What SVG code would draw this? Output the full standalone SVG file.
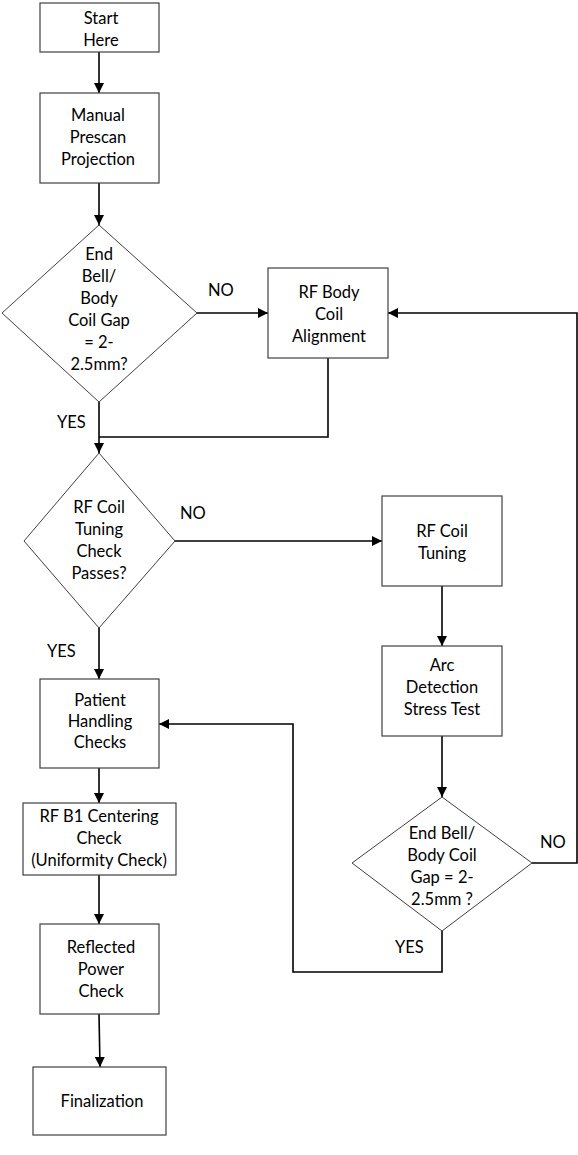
<svg xmlns="http://www.w3.org/2000/svg" width="578" height="1155" viewBox="0 0 578 1155">
<style>
.box{fill:#fff;stroke:#404040;stroke-width:1.2}
.dia{fill:#fff;stroke:#404040;stroke-width:1}
.t{font-family:Lato,"Liberation Sans",sans-serif;font-size:16.5px;fill:#000;text-anchor:middle;dominant-baseline:central}
.lbl{font-family:Lato,"Liberation Sans",sans-serif;font-size:16.5px;fill:#000;dominant-baseline:central}
.c{fill:none;stroke:#000;stroke-width:1.6}
</style>
<defs>
<marker id="ah" viewBox="0 0 10 10" refX="10" refY="5" markerWidth="10" markerHeight="10" markerUnits="userSpaceOnUse" orient="auto">
<path d="M0,0 L10,5 L0,10 z" fill="#000"/>
</marker>
</defs>
<rect width="578" height="1155" fill="#fff"/>
<g id="connectors">
<path class="c" d="M99,52 V93" marker-end="url(#ah)"/>
<path class="c" d="M99,183 V225" marker-end="url(#ah)"/>
<path class="c" d="M197,313 H268" marker-end="url(#ah)"/>
<path class="c" d="M328,358 V437 H99"/>
<path class="c" d="M99,402 V453" marker-end="url(#ah)"/>
<path class="c" d="M175,541 H382" marker-end="url(#ah)"/>
<path class="c" d="M442,586 V646" marker-end="url(#ah)"/>
<path class="c" d="M442,736 V797" marker-end="url(#ah)"/>
<path class="c" d="M532,863 H577 V313 H388" marker-end="url(#ah)"/>
<path class="c" d="M442,931 V972 H293 V724 H159" marker-end="url(#ah)"/>
<path class="c" d="M99,628 V679" marker-end="url(#ah)"/>
<path class="c" d="M99,768 V803" marker-end="url(#ah)"/>
<path class="c" d="M99,875 V924" marker-end="url(#ah)"/>
<path class="c" d="M99,1014 L100,1067" marker-end="url(#ah)"/>
<text class="lbl" x="208" y="290">NO</text>
<text class="lbl" x="57" y="422">YES</text>
<text class="lbl" x="180" y="513">NO</text>
<text class="lbl" x="47" y="651">YES</text>
<text class="lbl" x="540" y="842">NO</text>
<text class="lbl" x="395" y="947">YES</text>
</g>
<g id="start">
<rect class="box" x="40" y="3" width="119" height="49"/>
<text class="t" x="101" y="18">Start</text>
<text class="t" x="101" y="40">Here</text>
</g>
<g id="manual">
<rect class="box" x="40" y="93" width="119" height="90"/>
<text class="t" x="98" y="115">Manual</text>
<text class="t" x="98" y="137">Prescan</text>
<text class="t" x="98" y="159">Projection</text>
</g>
<g id="gap1">
<polygon class="dia" points="99,225 197,313 99,402 2,313"/>
<text class="t" x="99" y="254">End</text>
<text class="t" x="99" y="276">Bell/</text>
<text class="t" x="99" y="298">Body</text>
<text class="t" x="99" y="320">Coil Gap</text>
<text class="t" x="99" y="342">= 2-</text>
<text class="t" x="99" y="364">2.5mm?</text>
</g>
<g id="alignment">
<rect class="box" x="268" y="268" width="120" height="90"/>
<text class="t" x="329" y="292">RF Body</text>
<text class="t" x="329" y="314">Coil</text>
<text class="t" x="329" y="336">Alignment</text>
</g>
<g id="tuningcheck">
<polygon class="dia" points="99,453 175,541 99,628 24,541"/>
<text class="t" x="99" y="507">RF Coil</text>
<text class="t" x="99" y="529">Tuning</text>
<text class="t" x="99" y="551">Check</text>
<text class="t" x="99" y="573">Passes?</text>
</g>
<g id="tuning">
<rect class="box" x="382" y="496" width="120" height="90"/>
<text class="t" x="442" y="531">RF Coil</text>
<text class="t" x="442" y="553">Tuning</text>
</g>
<g id="arc">
<rect class="box" x="382" y="646" width="120" height="90"/>
<text class="t" x="442" y="665">Arc</text>
<text class="t" x="442" y="687">Detection</text>
<text class="t" x="442" y="709">Stress Test</text>
</g>
<g id="gap2">
<polygon class="dia" points="442,797 532,863 442,931 352,863"/>
<text class="t" x="442" y="833">End Bell/</text>
<text class="t" x="442" y="855">Body Coil</text>
<text class="t" x="442" y="877">Gap = 2-</text>
<text class="t" x="442" y="899">2.5mm ?</text>
</g>
<g id="patient">
<rect class="box" x="40" y="679" width="119" height="89"/>
<text class="t" x="100" y="700">Patient</text>
<text class="t" x="100" y="721">Handling</text>
<text class="t" x="100" y="742">Checks</text>
</g>
<g id="b1">
<rect class="box" x="23" y="803" width="153" height="72"/>
<text class="t" x="99" y="816">RF B1 Centering</text>
<text class="t" x="99" y="838">Check</text>
<text class="t" x="99" y="860">(Uniformity Check)</text>
</g>
<g id="reflected">
<rect class="box" x="40" y="924" width="119" height="90"/>
<text class="t" x="101" y="947">Reflected</text>
<text class="t" x="101" y="969">Power</text>
<text class="t" x="101" y="991">Check</text>
</g>
<g id="final">
<rect class="box" x="33" y="1067" width="133" height="68"/>
<text class="t" x="102" y="1101">Finalization</text>
</g>
</svg>
